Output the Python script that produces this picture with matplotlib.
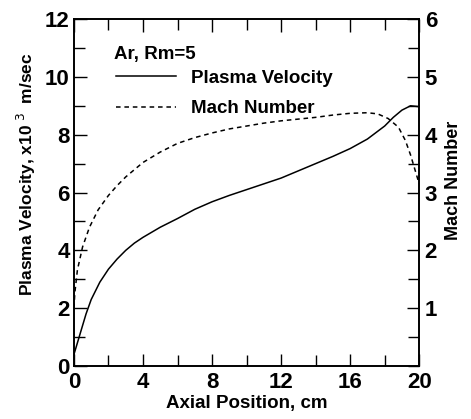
import matplotlib
matplotlib.use('Agg')
import matplotlib.pyplot as plt
from matplotlib.ticker import MultipleLocator, FixedLocator

plt.rcParams['font.family'] = ['Liberation Sans', 'DejaVu Sans']

# Plasma velocity (x10^3 m/sec) vs axial position (cm)
x_vel = [0.0, 0.2, 0.4, 0.7, 1.0, 1.5, 2.0, 2.5, 3.0, 3.5, 4.0, 5.0, 6.0,
         7.0, 8.0, 9.0, 10.0, 11.0, 12.0, 13.0, 14.0, 15.0, 16.0, 17.0,
         18.0, 18.5, 19.0, 19.5, 20.0]
vel = [0.4, 0.8, 1.2, 1.8, 2.3, 2.9, 3.35, 3.7, 4.0, 4.25, 4.45, 4.8, 5.1,
       5.42, 5.68, 5.9, 6.1, 6.3, 6.5, 6.75, 7.0, 7.25, 7.52, 7.85,
       8.3, 8.6, 8.85, 9.0, 8.97]

# Mach number vs axial position (cm)
x_mach = [0.0, 0.05, 0.2, 0.5, 0.9, 1.4, 2.0, 2.5, 3.0, 4.0, 5.0, 6.0, 7.0,
          8.0, 9.0, 10.0, 11.0, 12.0, 13.0, 14.0, 15.0, 16.0, 17.0, 17.6,
          18.2, 18.8, 19.2, 19.5, 19.8, 20.0]
mach = [1.0, 1.26, 1.66, 2.06, 2.4, 2.7, 2.95, 3.12, 3.27, 3.52, 3.7, 3.85,
        3.95, 4.03, 4.1, 4.15, 4.2, 4.24, 4.27, 4.3, 4.34, 4.37, 4.38, 4.36,
        4.28, 4.13, 3.9, 3.65, 3.35, 3.15]

fig = plt.figure(figsize=(4.71, 4.19), dpi=100)
ax = fig.add_axes([0.157, 0.1265, 0.733, 0.828])
ax2 = ax.twinx()

ax.plot(x_vel, vel, color='black', lw=1.1, label='Plasma Velocity')
ax2.plot(x_mach, mach, color='black', lw=1.1, ls=(0, (3, 2.5)), label='Mach Number')

ax.set_xlim(0, 20)
ax.set_ylim(0, 12)
ax2.set_ylim(0, 6)

ax.xaxis.set_major_locator(MultipleLocator(4))
ax.xaxis.set_minor_locator(MultipleLocator(2))
ax.yaxis.set_major_locator(MultipleLocator(2))
ax.yaxis.set_minor_locator(MultipleLocator(1))
ax2.yaxis.set_major_locator(FixedLocator([1, 2, 3, 4, 5, 6]))
ax2.yaxis.set_minor_locator(MultipleLocator(0.5))

ax.tick_params(axis='both', which='both', direction='in', top=True,
               labelsize=16, width=1.0)
ax.tick_params(which='major', length=9)
ax.tick_params(which='minor', length=8)
ax.tick_params(axis='x', pad=4)
ax.tick_params(axis='y', pad=3)
ax2.tick_params(axis='y', which='both', direction='in', labelsize=16, width=1.0, pad=4)
ax2.tick_params(which='major', length=9)
ax2.tick_params(which='minor', length=8)

for a in (ax, ax2):
    for s in a.spines.values():
        s.set_linewidth(1.2)
    for lab in a.get_xticklabels() + a.get_yticklabels():
        lab.set_fontweight('bold')

ax.set_xlabel('Axial Position, cm', fontsize=13.5, fontweight='bold', labelpad=2)
ax.set_ylabel('Plasma Velocity, x10$^{\\ 3}$  m/sec', fontsize=12.5,
              fontweight='bold', labelpad=5)
ax.yaxis.label.set_y(0.553)
ax2.set_ylabel('Mach Number', fontsize=13, fontweight='bold', labelpad=6)
ax2.yaxis.label.set_y(0.536)

ax.text(0.115, 0.885, 'Ar, Rm=5', transform=ax.transAxes, fontsize=13.5,
        fontweight='bold')
h1, l1 = ax.get_legend_handles_labels()
h2, l2 = ax2.get_legend_handles_labels()
ax.legend(h1 + h2, l1 + l2, loc='upper left', bbox_to_anchor=(0.1, 0.875),
          frameon=False, prop={'size': 13.5, 'weight': 'bold'},
          handlelength=3.2, handletextpad=0.8, labelspacing=0.7,
          borderaxespad=0)

fig.savefig('out.png', dpi=100)
